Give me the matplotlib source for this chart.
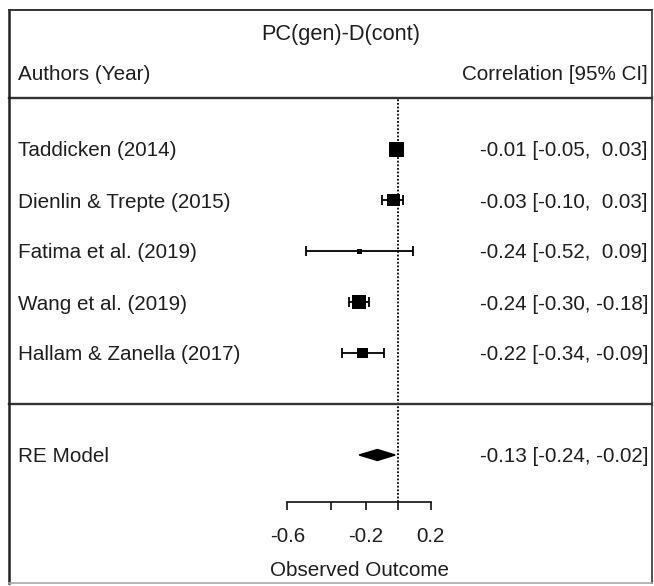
import numpy as np
import matplotlib
matplotlib.use("Agg")
import matplotlib.pyplot as plt
from matplotlib.patches import Polygon
from matplotlib.lines import Line2D

plt.rcParams["font.family"] = ["Liberation Sans", "DejaVu Sans"]

# ---- study data (correlations) ----
authors = ["Taddicken (2014)", "Dienlin & Trepte (2015)", "Fatima et al. (2019)",
           "Wang et al. (2019)", "Hallam & Zanella (2017)"]
estimate = [-0.01, -0.03, -0.24, -0.24, -0.22]
ci_lower = [-0.05, -0.10, -0.52, -0.30, -0.34]
ci_upper = [0.03, 0.03, 0.09, -0.18, -0.09]
weights = [25.5, 21.0, 10.0, 25.0, 18.5]   # random-effects weights (%)

re_label = "RE Model"
re_estimate, re_lower, re_upper = -0.13, -0.24, -0.02

tick_values = [-0.6, -0.4, -0.2, 0.0, 0.2]
tick_labels = ["-0.6", "", "-0.2", "", "0.2"]

title = "PC(gen)-D(cont)"
left_header = "Authors (Year)"
right_header = "Correlation [95% CI]"
xlabel = "Observed Outcome"

# ---- layout ----
W, H, DPI = 654, 586, 100
FS = 14.9
TXT = "#1e1e1e"
LINE = "#333333"

k = len(authors)
rows = np.arange(k, 0, -1)          # studies on rows k..1
re_row = -1
axis_row = -1.92

# x axis is on Fisher z scale, labelled in correlation units
z = np.arctanh

fig = plt.figure(figsize=(W / DPI, H / DPI), dpi=DPI)
ax = fig.add_axes([0, 0, 1, 1])
px_per_z = 160.0
x0_px = 398.3
ax.set_xlim(-x0_px / px_per_z, (W - x0_px) / px_per_z)
px_per_row = 51.0
row1_px = 353.0
ax.set_ylim(1 - (H - row1_px) / px_per_row, 1 + row1_px / px_per_row)

for s in ("left", "top", "right"):
    ax.spines[s].set_visible(False)
ax.set_yticks([])
ax.patch.set_alpha(0)

# bottom axis
ax.spines["bottom"].set_position(("data", axis_row))
ax.spines["bottom"].set_bounds(z(tick_values[0]), z(tick_values[-1]))
ax.spines["bottom"].set_linewidth(1.2)
ax.spines["bottom"].set_color("#111111")
ax.set_xticks(z(np.array(tick_values)))
ax.set_xticklabels(tick_labels)
ax.tick_params(axis="x", direction="out", length=5.8, width=1.2, color="#111111",
               pad=12, labelsize=FS, labelcolor=TXT)

# frame edges (figure pixels -> fractions)
fl, fr, ft, fb = 8.5 / W, 651.5 / W, 1 - 10 / H, 1 - 583 / H
band = matplotlib.transforms.blended_transform_factory(ax.transAxes, ax.transData)

# reference line at zero
ax.plot([0, 0], [axis_row, k + 1], color="black", lw=1.3,
        linestyle=(0, (1, 1)), zorder=1)

# header and separator lines
ax.plot([fl, fr], [k + 1, k + 1], transform=band, color=LINE, lw=1.7)
ax.plot([fl, fr], [0, 0], transform=band, color=LINE, lw=1.7)

# confidence intervals
est_z = z(np.array(estimate))
lo_z = z(np.array(ci_lower))
hi_z = z(np.array(ci_upper))
ax.errorbar(est_z, rows, xerr=[est_z - lo_z, hi_z - est_z], fmt="none",
            ecolor="black", elinewidth=1.3, capsize=3.6, capthick=1.3, zorder=2)

# point estimates, size by weight
w = np.array(weights)
size_px = 5.0 + (w - w.min()) / (w.max() - w.min()) * 10.0
size_pt = size_px * 72 / DPI
ax.scatter(est_z, rows, s=size_pt ** 2, marker="s", color="black",
           linewidths=0, zorder=3)

# summary diamond
h = 5.5 / px_per_row
diamond = Polygon([(z(re_lower), re_row), (z(re_estimate), re_row + h),
                   (z(re_upper), re_row), (z(re_estimate), re_row - h)],
                  closed=True, facecolor="black", edgecolor="black", lw=1.0, zorder=3)
ax.add_patch(diamond)

# text columns
xl = 18 / W
xr = 648 / W


def fmt(e, lo, hi):
    return f"{e:5.2f} [{lo:5.2f}, {hi:5.2f}]"


for r, a, e, lo, hi in zip(rows, authors, estimate, ci_lower, ci_upper):
    ax.text(xl, r, a, transform=band, ha="left", va="center_baseline",
            fontsize=FS, color=TXT)
    ax.text(xr, r, fmt(e, lo, hi), transform=band, ha="right",
            va="center_baseline", fontsize=FS, color=TXT)

ax.text(xl, re_row, re_label, transform=band, ha="left", va="center_baseline",
        fontsize=FS, color=TXT)
ax.text(xr, re_row, fmt(re_estimate, re_lower, re_upper), transform=band,
        ha="right", va="center_baseline", fontsize=FS, color=TXT)

ax.text(xl, k + 1.5, left_header, transform=band, ha="left",
        va="center_baseline", fontsize=FS, color=TXT)
ax.text(xr, k + 1.5, right_header, transform=band, ha="right",
        va="center_baseline", fontsize=FS, color=TXT)

ax.text(341 / W, k + 2.29, title, transform=band, ha="center",
        va="center_baseline", fontsize=FS + 0.8, color=TXT)

ax.text((z(tick_values[0]) + z(tick_values[-1])) / 2, -3.22, xlabel,
        ha="center", va="center_baseline", fontsize=FS, color=TXT)

# outer frame
fig.add_artist(Line2D([fl, fl], [fb, ft], transform=fig.transFigure, color="#222222", lw=1.8))
fig.add_artist(Line2D([fl, fr], [ft, ft], transform=fig.transFigure, color="#333333", lw=1.4))
fig.add_artist(Line2D([fr, fr], [fb, ft], transform=fig.transFigure, color="#333333", lw=1.2))
fig.add_artist(Line2D([fl, fr], [fb, fb], transform=fig.transFigure, color="#aaaaaa", lw=1.2))

fig.savefig("out.png", dpi=DPI)
